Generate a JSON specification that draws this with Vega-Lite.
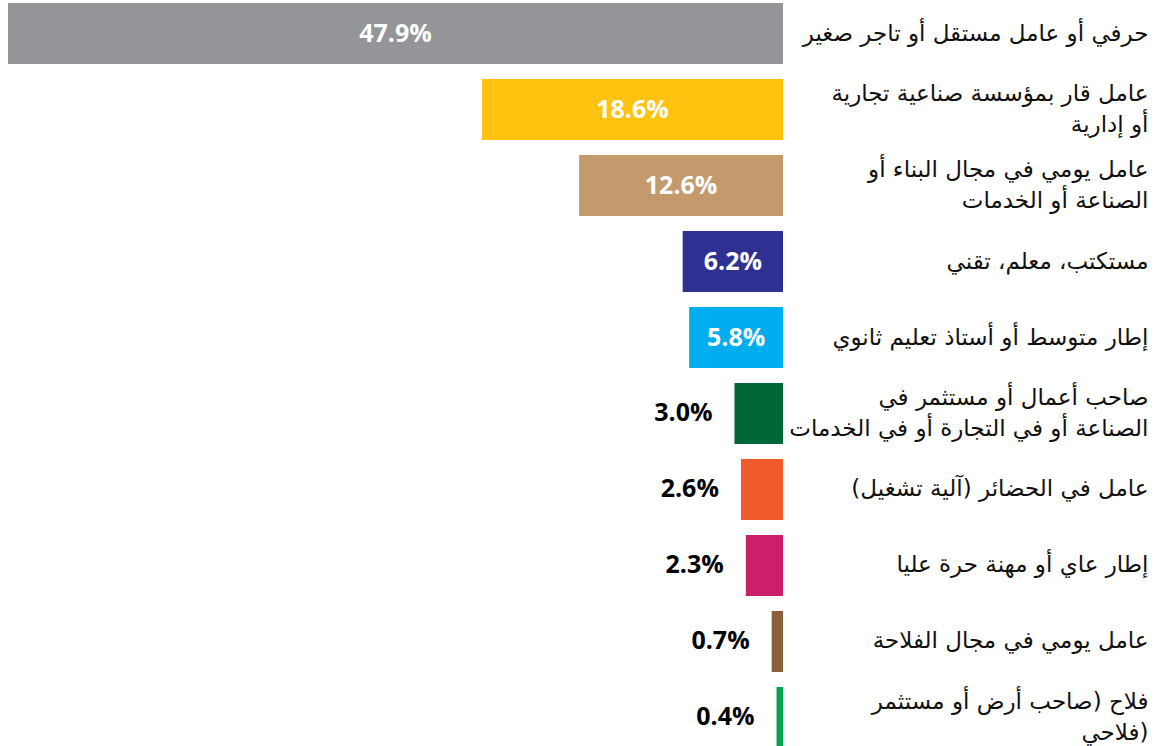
{
  "$schema": "https://vega.github.io/schema/vega-lite/v6.json",
  "width": 775,
  "height": 745,
  "autosize": {"type": "none"},
  "padding": {"left": 8, "top": 3, "right": 375, "bottom": 0},
  "background": "white",
  "config": {"view": {"stroke": null}},
  "data": {
    "values": [
      {"label": "حرفي أو عامل مستقل أو تاجر صغير", "value": 0.479},
      {"label": "عامل قار بمؤسسة صناعية تجارية|أو إدارية", "value": 0.186},
      {"label": "عامل يومي في مجال البناء أو|الصناعة أو الخدمات", "value": 0.126},
      {"label": "مستكتب، معلم، تقني", "value": 0.062},
      {"label": "إطار متوسط أو أستاذ تعليم ثانوي", "value": 0.058},
      {"label": "صاحب أعمال أو مستثمر في|الصناعة أو في التجارة أو في الخدمات", "value": 0.030},
      {"label": "عامل في الحضائر (آلية تشغيل)", "value": 0.026},
      {"label": "إطار عاي أو مهنة حرة عليا", "value": 0.023},
      {"label": "عامل يومي في مجال الفلاحة", "value": 0.007},
      {"label": "فلاح (صاحب أرض أو مستثمر|فلاحي)", "value": 0.004}
    ]
  },
  "encoding": {
    "y": {
      "field": "label",
      "type": "nominal",
      "sort": null,
      "scale": {"paddingInner": 0.197, "paddingOuter": 0},
      "axis": {
        "orient": "right",
        "title": null,
        "domain": false,
        "ticks": false,
        "labelAlign": "right",
        "labelBaseline": "middle",
        "labelPadding": 365,
        "labelLimit": 0,
        "labelFont": "DejaVu Sans",
        "labelFontSize": 23,
        "labelColor": "#111111",
        "labelLineHeight": 31,
        "labelOffset": {"condition": {"test": "indexof(datum.label, '|') >= 0", "value": -15.5}, "value": 0},
        "labelExpr": "split(datum.label, '|')"
      }
    },
    "x": {
      "field": "value",
      "type": "quantitative",
      "scale": {"domain": [0, 0.479], "reverse": true, "nice": false, "zero": true},
      "axis": null
    }
  },
  "layer": [
    {
      "mark": {"type": "bar"},
      "encoding": {
        "color": {
          "field": "label",
          "type": "nominal",
          "legend": null,
          "scale": {
            "domain": [
              "حرفي أو عامل مستقل أو تاجر صغير",
              "عامل قار بمؤسسة صناعية تجارية|أو إدارية",
              "عامل يومي في مجال البناء أو|الصناعة أو الخدمات",
              "مستكتب، معلم، تقني",
              "إطار متوسط أو أستاذ تعليم ثانوي",
              "صاحب أعمال أو مستثمر في|الصناعة أو في التجارة أو في الخدمات",
              "عامل في الحضائر (آلية تشغيل)",
              "إطار عاي أو مهنة حرة عليا",
              "عامل يومي في مجال الفلاحة",
              "فلاح (صاحب أرض أو مستثمر|فلاحي)"
            ],
            "range": ["#939598", "#FFC20E", "#C4996C", "#2E3192", "#00AEEF", "#006838", "#F15A2B", "#CB1E6B", "#8B5E3C", "#00A651"]
          }
        }
      }
    },
    {
      "transform": [{"filter": "datum.value >= 0.05"}, {"calculate": "datum.value / 2", "as": "mid"}],
      "mark": {"type": "text", "color": "white", "font": "Open Sans", "fontWeight": "bold", "fontSize": 25, "align": "center", "baseline": "middle"},
      "encoding": {
        "x": {"field": "mid", "type": "quantitative"},
        "text": {"field": "value", "type": "quantitative", "format": ".1%"}
      }
    },
    {
      "transform": [{"filter": "datum.value < 0.05"}],
      "mark": {"type": "text", "color": "black", "font": "Open Sans", "fontWeight": "bold", "fontSize": 25, "align": "right", "baseline": "middle", "dx": -22},
      "encoding": {
        "text": {"field": "value", "type": "quantitative", "format": ".1%"}
      }
    }
  ]
}
